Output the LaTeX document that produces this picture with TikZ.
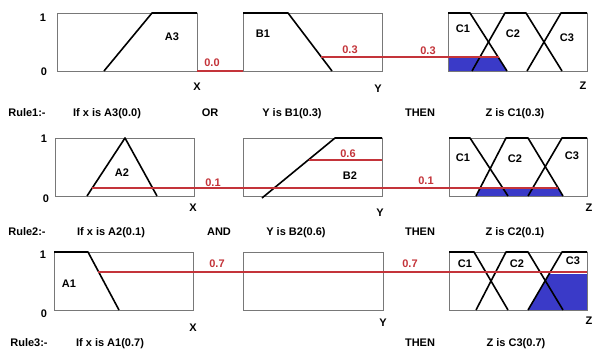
\documentclass[tikz,border=0pt]{standalone}
\usepackage{fontspec}
\setmainfont{Liberation Sans}
\definecolor{rl}{RGB}{196,52,58}
\definecolor{bl}{RGB}{58,58,200}
\definecolor{bx}{RGB}{120,120,120}
\begin{document}
\begin{tikzpicture}[x=1pt,y=-1pt,
  box/.style={draw=bx,line width=0.8pt},
  mf/.style={draw=black,line width=1.6pt,line join=round},
  lvl/.style={draw=rl,line width=1.5pt},
  fillz/.style={fill=bl},
  lab/.style={font=\fontsize{11}{13}\selectfont\bfseries,inner sep=0pt,anchor=base},
  rlab/.style={lab,text=rl}]
\useasboundingbox[fill=white] (0,0) rectangle (593,349);

% ---------- blue fills
\fill[fillz] (448,58) -- (498,58) -- (507,71) -- (448,71) -- cycle;
\fill[fillz] (476,196) -- (480,188) -- (558,188) -- (563,196) -- cycle;
\fill[fillz] (528,310) -- (549,274) -- (587,274) -- (587,310) -- cycle;

% ---------- boxes
\draw[box] (57,13) rectangle (197,71);
\draw[box] (243,13) rectangle (382,71);
\draw[box] (448,13) rectangle (587,71);
\draw[box] (55,138) rectangle (194,196);
\draw[box] (243,138) rectangle (382,196);
\draw[box] (449,138) rectangle (587,196);
\draw[box] (54,252) rectangle (193,310);
\draw[box] (243,252) rectangle (383,310);
\draw[box] (449,252) rectangle (587,310);

% ---------- membership functions, row 1
\draw[mf] (104,71) -- (152,13) -- (197,13);
\draw[mf] (243,13) -- (288,13) -- (332,71);
\draw[mf] (448,13) -- (470,13) -- (507,71);
\draw[mf] (472,71) -- (505,13) -- (526,13) -- (562,71);
\draw[mf] (527,71) -- (561,13) -- (587,13);
% row 2
\draw[mf] (87,196) -- (125,138) -- (157,196);
\draw[mf] (262,198) -- (335,138) -- (382,138);
\draw[mf] (449,138) -- (470,138) -- (508,196);
\draw[mf] (476,196) -- (506,138) -- (528,138) -- (563,196);
\draw[mf] (528,196) -- (562,138) -- (587,138);
% row 3
\draw[mf] (54,252) -- (88,252) -- (119,310);
\draw[mf] (449,252) -- (474,252) -- (508,310);
\draw[mf] (476,310) -- (506,252) -- (528,252) -- (563,310);
\draw[mf] (528,310) -- (562,252) -- (587,252);

% ---------- level lines
\draw[lvl] (197,71) -- (243,71);
\draw[lvl] (321,57) -- (499,57);
\draw[lvl] (92,188) -- (558,188);
\draw[lvl] (309,160) -- (382,160);
\draw[lvl] (98,272) -- (587,272);

% ---------- axis labels
\node[lab] (one1) at (43,21) {1};
\node[lab] (zero1) at (44,75) {0};
\node[lab] (one2) at (44,142) {1};
\node[lab] (zero2) at (46,202) {0};
\node[lab] (one3) at (43,258) {1};
\node[lab] (zero3) at (44,317) {0};

\node[lab] (x1) at (197,90) {X};
\node[lab] (y1) at (378,92) {Y};
\node[lab] (z1) at (583,89) {Z};
\node[lab] (x2) at (193,211) {X};
\node[lab] (y2) at (380,216) {Y};
\node[lab] (z2) at (589,211) {Z};
\node[lab] (x3) at (193,331) {X};
\node[lab] (y3) at (383,326) {Y};
\node[lab] (z3) at (589,324) {Z};

% ---------- set names
\node[lab] (a3) at (172,40) {A3};
\node[lab] (b1) at (263,37) {B1};
\node[lab] (c1a) at (463,32) {C1};
\node[lab] (c2a) at (513,37) {C2};
\node[lab] (c3a) at (567,41) {C3};
\node[lab] (a2) at (122,176) {A2};
\node[lab] (b2) at (350,179) {B2};
\node[lab] (c1b) at (463,161) {C1};
\node[lab] (c2b) at (515,162) {C2};
\node[lab] (c3b) at (572,159) {C3};
\node[lab] (a1) at (69,287) {A1};
\node[lab] (c1c) at (465,267) {C1};
\node[lab] (c2c) at (517,267) {C2};
\node[lab] (c3c) at (573,264) {C3};

% ---------- red values
\node[rlab] (v00) at (212,66) {0.0};
\node[rlab] (v03a) at (350,53) {0.3};
\node[rlab] (v03b) at (428,54) {0.3};
\node[rlab] (v06) at (348,157) {0.6};
\node[rlab] (v01a) at (213,186) {0.1};
\node[rlab] (v01b) at (426,184) {0.1};
\node[rlab] (v07a) at (217,267) {0.7};
\node[rlab] (v07b) at (410,267) {0.7};

% ---------- rules
\node[lab] (r1) at (27,116) {Rule1:-};
\node[lab] (r1a) at (107,116) {If x is A3(0.0)};
\node[lab] (r1o) at (210,116) {OR};
\node[lab] (r1b) at (292,116) {Y is B1(0.3)};
\node[lab] (r1t) at (420,116) {THEN};
\node[lab] (r1c) at (515,116) {Z is C1(0.3)};

\node[lab] (r2) at (27,235) {Rule2:-};
\node[lab] (r2a) at (111,235) {If x is A2(0.1)};
\node[lab] (r2o) at (219,235) {AND};
\node[lab] (r2b) at (296,235) {Y is B2(0.6)};
\node[lab] (r2t) at (420,235) {THEN};
\node[lab] (r2c) at (515,235) {Z is C2(0.1)};

\node[lab] (r3) at (29,346.5) {Rule3:-};
\node[lab] (r3a) at (110,346.5) {If x is A1(0.7)};
\node[lab] (r3t) at (420,346.5) {THEN};
\node[lab] (r3c) at (516,346.5) {Z is C3(0.7)};
\end{tikzpicture}
\end{document}
